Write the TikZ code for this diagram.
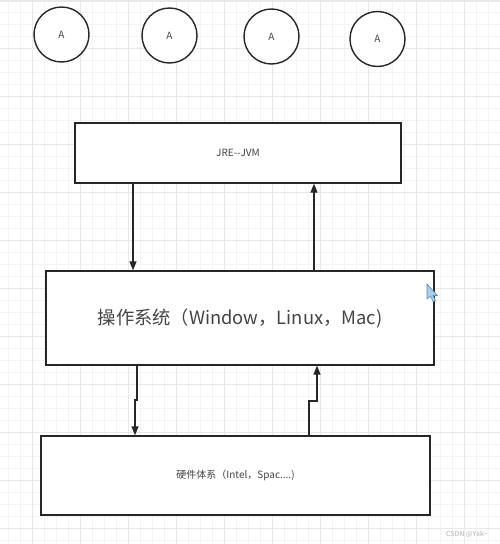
\documentclass[tikz,border=0pt]{standalone}
\usepackage{fontspec}
\setmainfont{Noto Sans CJK SC}
\usetikzlibrary{arrows.meta}
\definecolor{gridminor}{HTML}{F4F4F4}
\definecolor{gridmajor}{HTML}{E8E8E8}
\definecolor{ink}{HTML}{262626}
\definecolor{txt}{HTML}{444444}
\definecolor{cursorfill}{HTML}{A9CDEB}
\definecolor{cursorline}{HTML}{5B8DB8}
\tikzset{
  boxstyle/.style={draw=ink, line width=1.3pt, fill=white, inner sep=0pt, text=txt},
  circstyle/.style={circle, draw=ink, line width=1.4pt, fill=white, minimum size=55pt, inner sep=0pt, text=txt, font=\fontsize{10}{12}\selectfont},
  arr/.style={draw=ink, line width=1.3pt, -{Triangle[length=9pt,width=7pt]}},
}
\begin{document}
\begin{tikzpicture}[x=1pt,y=-1pt]
\useasboundingbox (0,0) rectangle (500,544);
\fill[white] (0,0) rectangle (500,544);
% grid
\foreach \x in {8,20,...,500} \draw[gridminor, line width=0.6pt] (\x,0) -- (\x,544);
\foreach \y in {12,24,...,544} \draw[gridminor, line width=0.6pt] (0,\y) -- (500,\y);
\foreach \x in {32,80,...,500} \draw[gridmajor, line width=0.8pt] (\x,0) -- (\x,544);
\foreach \y in {48,96,...,544} \draw[gridmajor, line width=0.8pt] (0,\y) -- (500,\y);
\fill[gridmajor] (0,0) rectangle (500,2);
% circles
\node[circstyle] (a1) at (61.5,34.5) {A};
\node[circstyle] (a2) at (169.5,35.5) {A};
\node[circstyle] (a3) at (271.5,36.5) {A};
\node[circstyle] (a4) at (377.5,39) {A};
% boxes
\node[boxstyle, minimum width=326pt, minimum height=60pt, font=\fontsize{10}{12}\selectfont] (jre) at (238,153) {JRE-{}-JVM};
\node[boxstyle, minimum width=388pt, minimum height=94pt, font=\fontsize{18.3}{21}\selectfont] (os) at (240,318) {操作系统（Window，Linux，Mac)};
\node[boxstyle, minimum width=389pt, minimum height=79pt, font=\fontsize{10}{12}\selectfont] (hw) at (235.5,475.5) {硬件体系（Intel，Spac....)};
% arrow columns
\coordinate (c1) at (133,0);
\coordinate (c2) at (314,0);
\coordinate (c3) at (137,400);
\coordinate (c4) at (135,400);
\coordinate (c5) at (309,401);
\coordinate (c6) at (317,401);
\draw[arr] (c1 |- jre.south) -- (c1 |- os.north);
\draw[arr] (c2 |- os.north) -- (c2 |- jre.south);
\draw[arr] (c3 |- os.south) -- (c3) -- (c4) -- (c4 |- hw.north);
\draw[arr] (c5 |- hw.north) -- (c5) -- (c6) -- (c6 |- os.south);
% cursor
\filldraw[fill=cursorfill, draw=cursorline, line width=0.6pt, line join=round]
  (427,284) -- (427,299) -- (430.5,296) -- (433,301.5) -- (435.5,300.5) -- (433,295.5) -- (437.5,295.5) -- cycle;
% watermark
\node[text=black!30, font=\fontsize{7}{8}\selectfont, inner sep=0pt] (wm) at (467,534) {CSDN @Yiik\textasciitilde};
\end{tikzpicture}
\end{document}
